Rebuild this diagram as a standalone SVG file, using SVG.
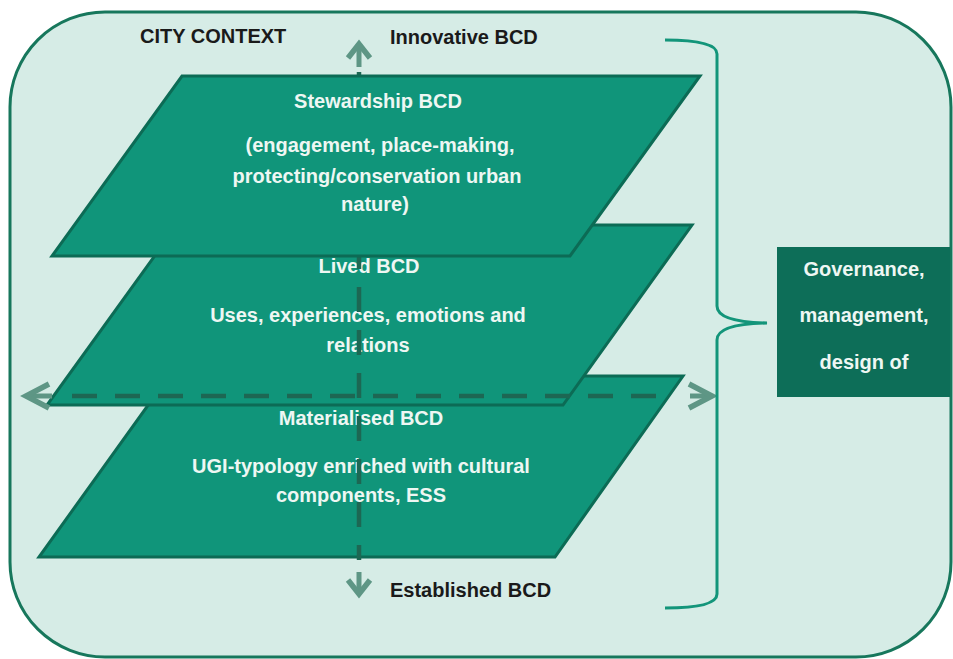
<svg xmlns="http://www.w3.org/2000/svg" width="953" height="659" viewBox="0 0 953 659">
<defs>
<style>
.lbl{font-family:"Liberation Sans",Arial,sans-serif;font-weight:bold;font-size:20px;fill:#1a1a1a}
.wt{font-family:"Liberation Sans",Arial,sans-serif;font-weight:bold;font-size:20px;fill:#eef7f3;text-anchor:middle}
.layer{fill:#10957a;stroke:#0c6b55;stroke-width:3;stroke-linejoin:miter}
.dash{fill:none;stroke:#1d6753;stroke-width:4.5;stroke-dasharray:25 18}
.head{fill:none;stroke:#5e9685;stroke-width:5.5;stroke-linejoin:miter;stroke-linecap:butt}
.brace{fill:none;stroke:#13957a;stroke-width:3}
</style>
</defs>
<rect x="10" y="12" width="941" height="645" rx="95" ry="95" fill="#d6ece6" stroke="#17775c" stroke-width="3"/>
<text class="lbl" x="140" y="43">CITY CONTEXT</text>
<text class="lbl" x="390" y="44">Innovative BCD</text>
<text class="lbl" x="390" y="597">Established BCD</text>
<g id="materialised">
<polygon class="layer" points="169,376 683,376 555,557 39,557"/>
<text class="wt" x="361" y="425">Materialised BCD</text>
<text class="wt" x="361" y="473">UGI-typology enriched with cultural</text>
<text class="wt" x="361" y="502">components, ESS</text>
</g>
<g id="lived">
<polygon class="layer" points="177,225 692,225 563,405 47,405"/>
<text class="wt" x="369" y="273">Lived BCD</text>
<text class="wt" x="368" y="322">Uses, experiences, emotions and</text>
<text class="wt" x="368" y="352">relations</text>
</g>
<g id="connectors">
<line class="dash" x1="359" y1="72" x2="359" y2="560"/>
<line class="dash" x1="72" y1="396" x2="670" y2="396"/>
<line x1="28" y1="396" x2="52" y2="396" stroke="#5e9685" stroke-width="5"/>
<line x1="690" y1="396" x2="710" y2="396" stroke="#5e9685" stroke-width="5"/>
<polyline class="head" points="49,384 26,396 49,408"/>
<polyline class="head" points="689,384 712,396 689,408"/>
<line x1="359" y1="46" x2="359" y2="67" stroke="#5e9685" stroke-width="5"/>
<polyline class="head" points="348,58 359,44 370,58"/>
<line x1="359" y1="572" x2="359" y2="593" stroke="#5e9685" stroke-width="5"/>
<polyline class="head" points="348,580 359,594 370,580"/>
<path class="brace" d="M665,40 Q717,40 717,54 L717,306 Q717,322 767,323 Q717,324 717,340 L717,594 Q717,608 665,608"/>
</g>
<g id="stewardship">
<polygon class="layer" points="182,76 700,76 570,256 52,256"/>
<text class="wt" x="378" y="108">Stewardship BCD</text>
<text class="wt" x="380" y="152">(engagement, place-making,</text>
<text class="wt" x="377" y="183">protecting/conservation urban</text>
<text class="wt" x="375" y="211">nature)</text>
</g>
<g id="governance">
<rect x="777" y="247" width="173" height="150" fill="#0d6e58"/>
<text class="wt" x="864" y="276">Governance,</text>
<text class="wt" x="864" y="322">management,</text>
<text class="wt" x="864" y="369">design of</text>
</g>
</svg>
